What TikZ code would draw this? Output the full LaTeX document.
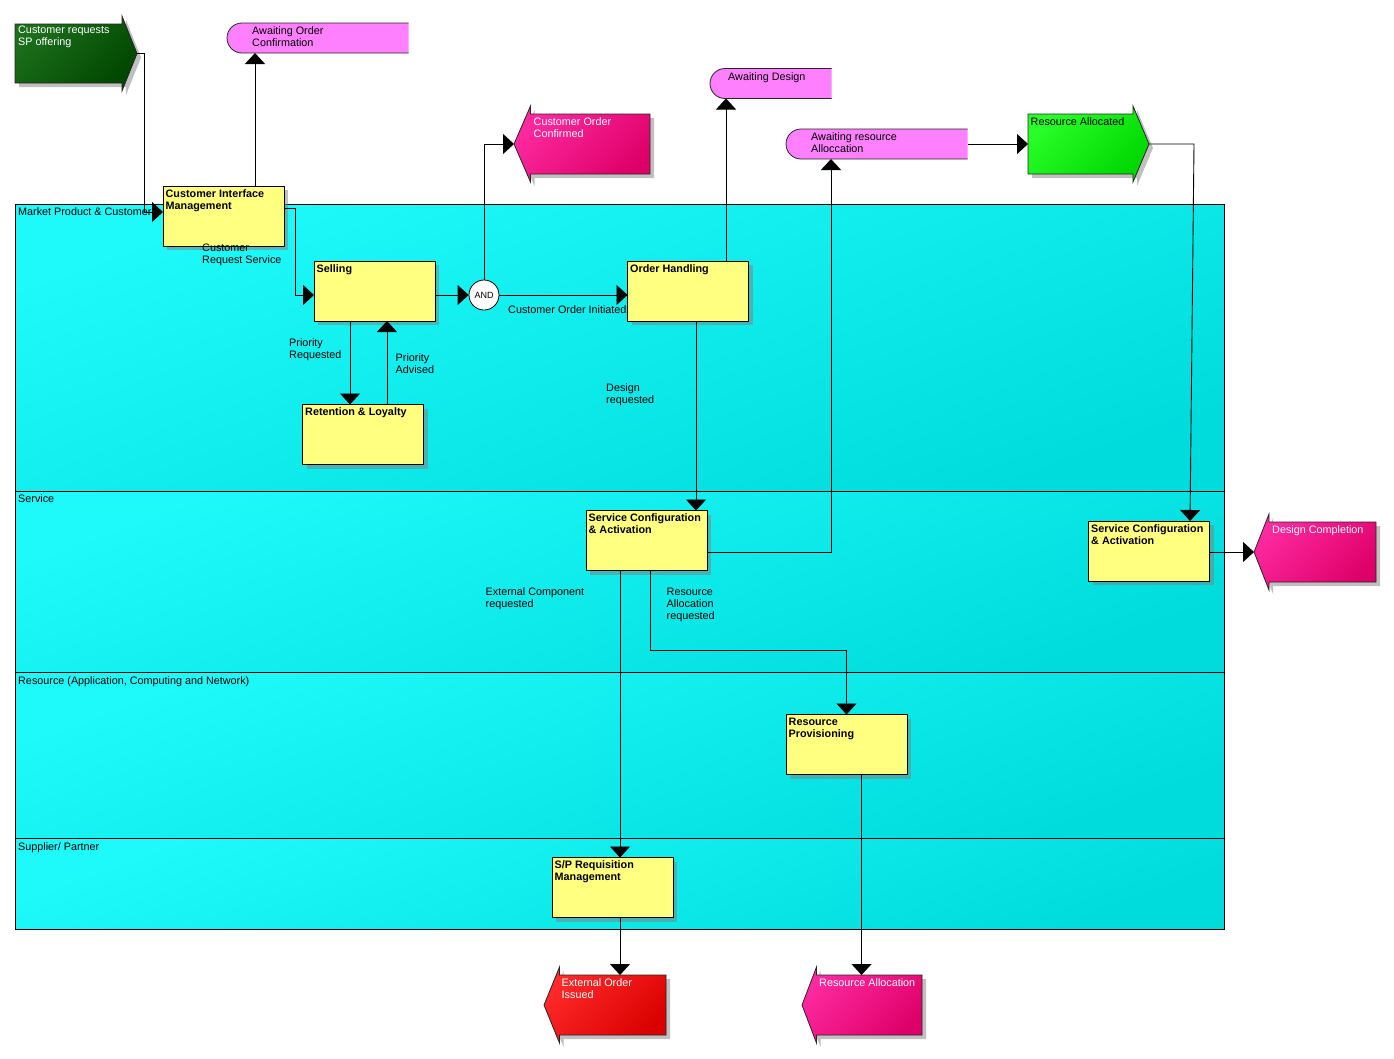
\documentclass[tikz,border=0pt]{standalone}
\usepackage{fontspec}
\setmainfont{Liberation Sans}
\usetikzlibrary{arrows.meta,shadows}

\definecolor{boxyellow}{HTML}{FFFF80}
\definecolor{cyanA}{HTML}{1EFAFA}
\definecolor{cyanB}{HTML}{00DCDC}
\definecolor{waitpink}{HTML}{FF80FF}
\definecolor{pinkA}{HTML}{FF2AA0}
\definecolor{pinkB}{HTML}{DD0068}
\definecolor{redA}{HTML}{FF2A2A}
\definecolor{redB}{HTML}{DA0000}
\definecolor{grnA}{HTML}{2AFF2A}
\definecolor{grnB}{HTML}{00D600}
\definecolor{dgrnA}{HTML}{1C701C}
\definecolor{dgrnB}{HTML}{004600}
\definecolor{evshadow}{HTML}{C0C0C0}

\begin{document}
\begin{tikzpicture}[x=1pt,y=-1pt,
  font=\fontsize{10.8}{12}\selectfont,
  lane/.style={draw=black, line width=0.8pt, top color=cyanA, bottom color=cyanB, shading angle=20,
    minimum width=1209pt, anchor=north west, inner sep=0pt, outer sep=0pt},
  lanelabel/.style={anchor=north west, inner sep=0pt},
  box/.style={draw=black, line width=0.9pt, fill=boxyellow, minimum width=121pt, minimum height=60pt,
    anchor=north west, inner sep=0pt, outer sep=0pt,
    drop shadow={shadow xshift=4pt, shadow yshift=-4pt, opacity=0.5, fill=black!50}},
  btext/.style={anchor=north west, inner sep=0pt, align=left, font=\fontsize{10.8}{12}\selectfont\bfseries},
  txt/.style={anchor=north west, inner sep=0pt, align=left},
  wtxt/.style={txt, text=white},
  evbody/.style={rectangle, anchor=north west, inner sep=0pt, outer sep=0pt},
  evline/.style={draw=black!85, line width=0.8pt},
  conn/.style={draw=black, line width=0.9pt, -{Triangle[width=20pt,length=11pt]}},
]
\fill[white] (0,0) rectangle (1394,1058);
\useasboundingbox (0,0) rectangle (1394,1058);

% ---------- lanes ----------
\node[lane, minimum height=287pt] (lane1) at (15,204) {};
\node[lane, minimum height=181pt] (lane2) at (15,491) {};
\node[lane, minimum height=166pt] (lane3) at (15,672) {};
\node[lane, minimum height=91pt]  (lane4) at (15,838) {};
\node[lanelabel] (lane1-t) at (18,207) {Market Product \& Customer};
\node[lanelabel] (lane2-t) at (18,494) {Service};
\node[lanelabel] (lane3-t) at (18,676) {Resource (Application, Computing and Network)};
\node[lanelabel] (lane4-t) at (18,842) {Supplier/ Partner};

% ---------- event: Customer requests SP offering ----------
\node[evbody, minimum width=107pt, minimum height=59pt] (crso) at (15,24) {};
\coordinate (crso-tip) at (137,53.5);
\fill[evshadow] (19,28) -- (126,28) -- (126,20) -- (141,57.5) -- (126,95) -- (126,87) -- (19,87) -- cycle;
\path[evline, top color=dgrnA, bottom color=dgrnB, shading angle=45]
  (15,24) -- (122,24) -- (122,16) -- (137,53.5) -- (122,91) -- (122,83) -- (15,83) -- cycle;
\node[wtxt] (crso-t) at (18,26) {Customer requests\\SP offering};

% ---------- event: Customer Order Confirmed ----------
\node[evbody, minimum width=119.5pt, minimum height=60pt] (coc) at (530.5,114) {};
\coordinate (coc-tip) at (514,144);
\fill[evshadow] (654,118) -- (534.5,118) -- (534.5,110) -- (518,148) -- (534.5,186) -- (534.5,178) -- (654,178) -- cycle;
\path[evline, top color=pinkA, bottom color=pinkB, shading angle=45]
  (650,114) -- (530.5,114) -- (530.5,106) -- (514,144) -- (530.5,182) -- (530.5,174) -- (650,174) -- cycle;
\node[wtxt] (coc-t) at (533.5,117) {Customer Order\\Confirmed};

% ---------- event: Resource Allocated ----------
\node[evbody, minimum width=105pt, minimum height=60pt] (ra) at (1028,114) {};
\coordinate (ra-tip) at (1149,144);
\fill[evshadow] (1032,118) -- (1137,118) -- (1137,110) -- (1153,148) -- (1137,186) -- (1137,178) -- (1032,178) -- cycle;
\path[evline, top color=grnA, bottom color=grnB, shading angle=45]
  (1028,114) -- (1133,114) -- (1133,106) -- (1149,144) -- (1133,182) -- (1133,174) -- (1028,174) -- cycle;
\node[txt] (ra-t) at (1030.5,117) {Resource Allocated};

% ---------- event: Design Completion ----------
\node[evbody, minimum width=107pt, minimum height=60pt] (dc) at (1269,522) {};
\coordinate (dc-tip) at (1254,552);
\fill[evshadow] (1380,526) -- (1273,526) -- (1273,518) -- (1258,556) -- (1273,594) -- (1273,586) -- (1380,586) -- cycle;
\path[evline, top color=pinkA, bottom color=pinkB, shading angle=45]
  (1376,522) -- (1269,522) -- (1269,514) -- (1254,552) -- (1269,590) -- (1269,582) -- (1376,582) -- cycle;
\node[wtxt] (dc-t) at (1272,525) {Design Completion};

% ---------- event: External Order Issued ----------
\node[evbody, minimum width=106.5pt, minimum height=60pt] (eoi) at (559.5,975) {};
\fill[evshadow] (670,979) -- (563.5,979) -- (563.5,971) -- (548,1009) -- (563.5,1047) -- (563.5,1039) -- (670,1039) -- cycle;
\path[evline, top color=redA, bottom color=redB, shading angle=45]
  (666,975) -- (559.5,975) -- (559.5,967) -- (544,1005) -- (559.5,1043) -- (559.5,1035) -- (666,1035) -- cycle;
\node[wtxt] (eoi-t) at (561.5,978) {External Order\\Issued};

% ---------- event: Resource Allocation ----------
\node[evbody, minimum width=105.5pt, minimum height=60pt] (ra2) at (816.5,975) {};
\fill[evshadow] (926,979) -- (820.5,979) -- (820.5,971) -- (806,1009) -- (820.5,1047) -- (820.5,1039) -- (926,1039) -- cycle;
\path[evline, top color=pinkA, bottom color=pinkB, shading angle=45]
  (922,975) -- (816.5,975) -- (816.5,967) -- (802,1005) -- (816.5,1043) -- (816.5,1035) -- (922,1035) -- cycle;
\node[wtxt] (ra2-t) at (819,978) {Resource Allocation};

% ---------- waiting states ----------
\node[evbody, minimum width=181.7pt, minimum height=30pt] (aoc) at (227,23) {};
\fill[waitpink] (408.7,23) -- (242,23) arc[start angle=90,end angle=270,radius=15pt] -- (408.7,53) -- cycle;
\draw[evline] (408.7,23) -- (242,23) arc[start angle=90,end angle=270,radius=15pt] -- (408.7,53);
\node[txt] (aoc-t) at (252,26) {Awaiting Order\\Confirmation};

\node[evbody, minimum width=121.5pt, minimum height=30pt] (ad) at (710,68.5) {};
\fill[waitpink] (831.5,68.5) -- (725,68.5) arc[start angle=90,end angle=270,radius=15pt] -- (831.5,98.5) -- cycle;
\draw[evline] (831.5,68.5) -- (725,68.5) arc[start angle=90,end angle=270,radius=15pt] -- (831.5,98.5);
\node[txt] (ad-t) at (728,72) {Awaiting Design};

\node[evbody, minimum width=181.5pt, minimum height=30pt] (ar) at (786,129) {};
\fill[waitpink] (967.5,129) -- (801,129) arc[start angle=90,end angle=270,radius=15pt] -- (967.5,159) -- cycle;
\draw[evline] (967.5,129) -- (801,129) arc[start angle=90,end angle=270,radius=15pt] -- (967.5,159);
\node[txt] (ar-t) at (811,132) {Awaiting resource\\Alloccation};

% ---------- process boxes ----------
\node[box] (cim) at (163,186) {};
\node[btext] (cim-t) at ([shift={(2.5pt,-3pt)}]cim.north west) {Customer Interface\\Management};
\node[box] (selling) at (314,261) {};
\node[btext] (selling-t) at ([shift={(2.5pt,-3pt)}]selling.north west) {Selling};
\node[box] (rl) at (302.5,404.5) {};
\node[btext] (rl-t) at ([shift={(2.5pt,-3pt)}]rl.north west) {Retention \& Loyalty};
\node[box] (oh) at (627.5,261) {};
\node[btext] (oh-t) at ([shift={(2.5pt,-3pt)}]oh.north west) {Order Handling};
\node[box] (sca1) at (586,510.5) {};
\node[btext] (sca1-t) at ([shift={(2.5pt,-3pt)}]sca1.north west) {Service Configuration\\\& Activation};
\node[box] (sca2) at (1088.5,521) {};
\node[btext] (sca2-t) at ([shift={(2.5pt,-3pt)}]sca2.north west) {Service Configuration\\\& Activation};
\node[box] (rp) at (786,714.5) {};
\node[btext] (rp-t) at ([shift={(2.5pt,-3pt)}]rp.north west) {Resource\\Provisioning};
\node[box] (spr) at (552,857.5) {};
\node[btext] (spr-t) at ([shift={(2.5pt,-3pt)}]spr.north west) {S/P Requisition\\Management};

\node[draw=black, line width=0.8pt, circle, fill=white, minimum size=30pt, inner sep=0pt,
  font=\fontsize{9}{10}\selectfont] (and) at (484,295) {AND};

% ---------- free labels ----------
\node[txt] (l-crs) at (202,244) {Customer\\Request Service};
\node[txt] (l-coi) at (508,305) {Customer Order Initiated};
\node[txt] (l-pr) at (289,338) {Priority\\Requested};
\node[txt] (l-pa) at (395.5,353) {Priority\\Advised};
\node[txt] (l-dr) at (606,383) {Design\\requested};
\node[txt] (l-ecr) at (485.5,587.5) {External Component\\requested};
\node[txt] (l-rar) at (666.5,587.5) {Resource\\Allocation\\requested};

% ---------- connectors ----------
\draw[conn] (crso-tip) -| (144,212) -- (cim.west |- 0,212);
\draw[conn] (cim.north -| 255,0) -- (aoc.south -| 255,0);
\draw[conn] (cim.east |- 0,208) -| (295,295) -- (selling.west |- 0,295);
\draw[conn] (selling.east |- and.west) -- (and.west);
\draw[conn] (and.east) -- (oh.west |- and.east);
\draw[conn] (and.north) |- (coc-tip);
\draw[conn] (selling.south -| 350,0) -- (rl.north -| 350,0);
\draw[conn] (rl.north -| 387,0) -- (selling.south -| 387,0);
\draw[conn] (oh.north -| 726,0) -- (ad.south -| 726,0);
\draw[conn] (oh.south -| 696,0) -- (sca1.north -| 696,0);
\draw[conn] (sca1.east |- 0,552) -| (ar.south -| 831,0);
\draw[conn] (ar.east) -- (ra.west);
\draw[conn] (ra-tip) -- (1194,144) -- (sca2.north -| 1190,0);
\draw[conn] (sca2.east |- dc-tip) -- (dc-tip);
\draw[conn] (sca1.south -| 620,0) -- (spr.north -| 620,0);
\draw[conn] (sca1.south -| 650.5,0) |- (846.5,650) -- (rp.north -| 846.5,0);
\draw[conn] (rp.south -| 861.5,0) -- (ra2.north -| 861.5,0);
\draw[conn] (spr.south -| 620,0) -- (eoi.north -| 620,0);
\end{tikzpicture}
\end{document}
